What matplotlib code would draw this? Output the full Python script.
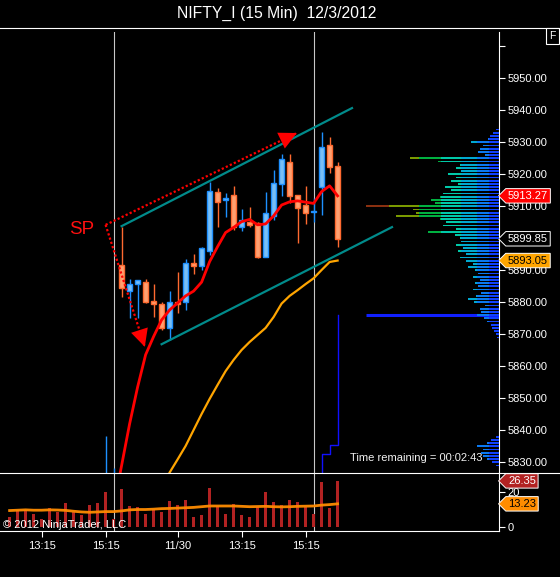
import numpy as np
import matplotlib
matplotlib.use('Agg')
import matplotlib.pyplot as plt
from matplotlib.path import Path
from matplotlib.lines import Line2D

plt.rcParams['font.family'] = ['Liberation Sans', 'DejaVu Sans']

# bar index j = 0..41 (15 min bars), candles visible from j = 12
cndl_idx = list(range(12, 42))
opens = [5820.0, 5822.0,
         5891.7, 5883.6, 5885.6, 5886.3, 5880.3, 5879.5, 5872.1, 5880.2, 5880.2, 5892.2,
         5891.4, 5896.1, 5914.4, 5912.0, 5913.4, 5903.6, 5905.2, 5904.9, 5894.2, 5907.1,
         5916.9, 5923.8, 5913.4, 5910.3, 5908.2, 5916.1, 5929.2, 5922.6]
highs = [5838.2, 5828.2,
         5903.6, 5887.2, 5887.0, 5887.3, 5885.7, 5880.2, 5883.5, 5889.4, 5893.5, 5895.1,
         5897.4, 5917.7, 5915.8, 5914.1, 5916.3, 5909.2, 5909.7, 5905.0, 5914.6, 5921.3,
         5926.3, 5926.3, 5913.4, 5916.3, 5912.5, 5933.3, 5931.6, 5923.9]
lows = [5816.0, 5818.0,
        5881.8, 5875.0, 5875.0, 5879.7, 5875.5, 5871.2, 5868.2, 5876.6, 5877.6, 5888.8,
        5890.1, 5894.8, 5903.6, 5906.8, 5902.6, 5902.4, 5903.6, 5894.0, 5894.2, 5905.7,
        5913.3, 5910.9, 5898.4, 5904.5, 5905.2, 5907.3, 5920.3, 5897.2]
closes = [5825.0, 5824.0,
          5884.4, 5885.7, 5887.0, 5880.2, 5879.4, 5871.9, 5880.2, 5879.4, 5892.2, 5891.4,
          5896.9, 5914.8, 5911.3, 5912.5, 5903.4, 5905.7, 5904.2, 5894.2, 5907.8, 5917.2,
          5924.7, 5913.3, 5909.4, 5907.8, 5908.5, 5928.4, 5922.4, 5899.85]

# fast average (red) and slow average (orange)
fast_idx = list(range(13, 42))
fast_ma = [5816.0, 5829.0, 5842.0, 5853.5, 5863.6, 5869.3, 5874.5, 5877.6, 5879.8, 5882.0,
           5883.5, 5886.3, 5892.7, 5897.4, 5901.8, 5903.4, 5905.2, 5905.9, 5904.2, 5904.5,
           5907.0, 5910.4, 5911.4, 5911.7, 5911.3, 5910.9, 5914.6, 5916.4, 5913.27]
slow_idx = list(range(19, 42))
slow_ma = [5821.0, 5826.8, 5830.9, 5835.1, 5840.1, 5845.1, 5849.8, 5854.2, 5858.5, 5862.0,
           5865.1, 5867.6, 5869.8, 5872.0, 5875.4, 5879.6, 5882.0, 5883.8, 5885.7, 5887.5,
           5890.1, 5892.6, 5893.05]

# blue step line
step_idx = [38, 39, 40, 41]
step_val = [5822.0, 5832.6, 5835.4, 5876.0]

volume = [5.5, 9.7, 9.7, 7.4, 4.6, 10.7, 8.7, 13.5, 8.7, 6.9, 12.6, 13.5,
          20.1, 4.5, 21.7, 12.0, 11.3, 7.4, 10.1, 8.7, 14.9, 12.6,
          15.4, 5.7, 6.9, 22.3, 12.0, 7.4, 13.1, 6.9, 5.7, 11.6,
          20.0, 14.3, 12.6, 15.4, 14.3, 11.6, 7.4, 25.7, 10.9, 26.35]
vol_ma = [9.4, 9.6, 9.8, 9.6, 9.6, 9.8, 9.7, 9.5, 9.0, 8.6,
          8.4, 8.6, 8.8, 8.8, 9.2, 9.8, 10.0, 10.0, 10.2, 10.5,
          10.6, 10.8, 11.0, 11.2, 11.6, 12.0, 12.0, 12.0, 12.0, 11.8,
          11.6, 11.7, 11.8, 11.6, 11.5, 11.6, 11.8, 11.9, 12.0, 12.5,
          12.8, 13.23]

# volume profile (price level, size)
prof_price = [5934, 5933, 5932, 5931, 5930, 5929, 5928, 5927, 5926, 5925,
              5924, 5923, 5922, 5921, 5920, 5919, 5918, 5917, 5916, 5915,
              5914, 5913, 5912, 5911, 5910, 5909, 5908, 5907, 5906, 5905,
              5904, 5903, 5902, 5901, 5900, 5899, 5898, 5897, 5896, 5895,
              5894, 5893, 5892, 5891, 5890, 5889, 5888, 5887, 5886, 5885,
              5884, 5883, 5882, 5881, 5880, 5879, 5878, 5877, 5876, 5875,
              5874, 5873, 5872, 5871, 5870, 5869,
              5838, 5837, 5836, 5835, 5834, 5833, 5832, 5831, 5830, 5829]
prof_size = [3, 6, 9, 11, 28, 16, 19, 21, 14, 89,
             61, 39, 43, 38, 51, 43, 48, 41, 54, 48,
             56, 59, 68, 64, 133, 86, 83, 103, 59, 53,
             56, 43, 71, 44, 39, 38, 43, 36, 41, 33,
             39, 33, 26, 31, 24, 21, 26, 19, 24, 21,
             26, 18, 23, 31, 25, 14, 19, 18, 22, 15,
             12, 8, 7, 5, 3, 2,
             3, 8, 12, 22, 16, 18, 16, 12, 7, 3]

sessions = [13, 38]
tick_pos = [4, 12, 21, 29, 37]
tick_lab = ['13:15', '15:15', '11/30', '13:15', '15:15']

upper_ch = ([14.0, 42.8], [5903.8, 5940.7])
lower_ch = ([19.0, 47.8], [5866.9, 5903.5])
sp_start = (12.0, 5904.2)
sp_up = (35.9, 5932.9)
sp_down = (16.9, 5866.1)

W, H = 560, 577
fig = plt.figure(figsize=(W / 100, H / 100), dpi=100, facecolor='black')
ax = fig.add_axes([0, 104 / H, 499 / W, 441 / H])
axv = fig.add_axes([0, 46 / H, 499 / W, 58 / H])

xlim = (-1.2, 61.175)
for a in (ax, axv):
    a.set_facecolor('black')
    a.set_xlim(*xlim)
    for s in ['left', 'top', 'bottom', 'right']:
        a.spines[s].set_visible(False)
    a.spines['right'].set_visible(True)
    a.spines['right'].set_color('white')
    a.spines['right'].set_linewidth(0.8)
    for s in sessions:
        a.axvline(s, color='#c8c8c8', lw=0.8, zorder=1)
axv.spines['bottom'].set_visible(True)
axv.spines['bottom'].set_color('white')
axv.spines['bottom'].set_linewidth(0.8)

ax.set_ylim(5826.66, 5964.47)
axv.set_ylim(-2.29, 30.86)

# price axis
yt = list(range(5830, 5961, 10))
ax.set_yticks(yt)
ax.set_yticklabels(['%.2f' % v if v < 5960 else '' for v in yt])
ax.yaxis.tick_right()
ax.tick_params(axis='y', colors='white', length=4.5, width=0.8, labelsize=8, pad=1.5)
ax.set_xticks([])

# volume profile on its own x scale (growing leftwards from the axis)
axp = ax.twiny()
axp.set_xlim(499, 0)
axp.set_xticks([])
for s in axp.spines.values():
    s.set_visible(False)
seg_edges = [0, 10, 22, 38, 58, 80, 110, 300]
seg_cols = ['#1040ff', '#0a78f0', '#00a8d0', '#00c8a8', '#00b040', '#7a9a00', '#8a3010']
psize = np.array(prof_size, dtype=float)
for lo, hi, c in zip(seg_edges[:-1], seg_edges[1:], seg_cols):
    w = np.clip(psize - lo, 0, hi - lo)
    axp.barh(prof_price, w, left=lo, height=0.55, color=c, linewidth=0, zorder=1)

# candles
o = np.array(opens); c_ = np.array(closes)
up = c_ >= o
edge = np.where(up, '#1e90ff', '#ff6a30')
fill = np.where(up, '#78bff5', '#ffa070')
ax.vlines(cndl_idx, lows, highs, colors=edge, lw=1, zorder=3)
ax.bar(cndl_idx, np.maximum(np.abs(c_ - o), 0.35), bottom=np.minimum(o, c_), width=0.62,
       color=fill, edgecolor=edge, linewidth=1, zorder=3)

# averages
ax.plot(fast_idx, fast_ma, color='#ff0000', lw=2, zorder=5)
ax.plot(slow_idx, slow_ma, color='#ffa500', lw=1.6, zorder=5)

# step line + level
ax.plot(step_idx, step_val, drawstyle='steps-post', color='#1010ff', lw=1, zorder=4)
ax.hlines(step_val[-1], 44.55, xlim[1], color='#1020ff', lw=2.2, zorder=6)

# channel
ax.plot(*upper_ch, color='#008b8b', lw=1.6, zorder=4)
ax.plot(*lower_ch, color='#008b8b', lw=1.6, zorder=4)

# SP arrows
for tip in (sp_up, sp_down):
    ax.plot([sp_start[0], tip[0]], [sp_start[1], tip[1]], color='#ff0000', lw=1.6,
            ls=(0, (1, 1)), zorder=6)
    ax.annotate('', xy=tip, xytext=sp_start,
                arrowprops=dict(arrowstyle='-|>,head_length=0.9,head_width=0.45',
                                mutation_scale=14, color='#ff0000', lw=0,
                                shrinkA=0, shrinkB=0), zorder=6)
ax.text(8.96, 5902.9, 'SP', color='#ff1010', fontsize=13.5, ha='center', va='center')

ax.text(350 / 499, 15 / 441, 'Time remaining = 00:02:43', transform=ax.transAxes,
        color='#f0f0f0', fontsize=8, ha='left', va='center')


def tag(x0, y0, width, height, mutation_size):
    pad = 0.2 * mutation_size
    x0, y0 = x0 - pad, y0 - pad
    width, height = width + 2 * pad, height + 2 * pad
    nose = height * 0.5
    verts = [(x0 - nose, y0 + height / 2), (x0, y0), (x0 + width, y0),
             (x0 + width, y0 + height), (x0, y0 + height), (x0 - nose, y0 + height / 2)]
    return Path(verts, closed=True)


def price_tag(a, val, fc, tc):
    a.annotate('%.2f' % val, xy=(1, val), xycoords=('axes fraction', 'data'),
               xytext=(9, 0), textcoords='offset pixels', ha='left', va='center',
               color=tc, fontsize=8, annotation_clip=False, zorder=10,
               bbox=dict(boxstyle=tag, fc=fc, ec='white', lw=0.7))


price_tag(ax, fast_ma[-1], '#ff0000', 'white')
price_tag(ax, closes[-1], 'black', 'white')
price_tag(ax, slow_ma[-1], '#ffa500', 'black')

# volume panel
axv.bar(range(len(volume)), volume, width=0.38, color='#b22222', zorder=2)
axv.plot(range(len(vol_ma)), vol_ma, color='#ff8c00', lw=2, zorder=3, alpha=0.95)
axv.set_yticks([0, 20])
axv.yaxis.tick_right()
axv.tick_params(axis='y', colors='white', length=4.5, width=0.8, labelsize=8, pad=1.5)
axv.set_xticks(tick_pos)
axv.set_xticklabels(tick_lab)
axv.tick_params(axis='x', colors='white', length=4, width=0.8, labelsize=8, pad=3)
price_tag(axv, volume[-1], '#b22222', 'white')
price_tag(axv, vol_ma[-1], '#ff8c00', 'black')
axv.text(3 / 499, 6 / 58, '\u00a9 2012 NinjaTrader, LLC', transform=axv.transAxes,
         color='white', fontsize=8, ha='left', va='center', zorder=5)

# frame lines and header
for yy in (27.5, 473):
    fig.add_artist(Line2D([0, 1], [1 - yy / H, 1 - yy / H], transform=fig.transFigure,
                          color='white', lw=0.8))
fig.text(277 / W, 1 - 13 / H, 'NIFTY_I (15 Min)  12/3/2012', color='white',
         fontsize=11.3, ha='center', va='center')
fig.text(552.3 / W, 1 - 36.3 / H, 'F', color='white', fontsize=7.5, ha='center', va='center',
         bbox=dict(boxstyle='square,pad=0.3', fc='black', ec='white', lw=0.8))

fig.savefig('out.png', dpi=100, facecolor='black')
